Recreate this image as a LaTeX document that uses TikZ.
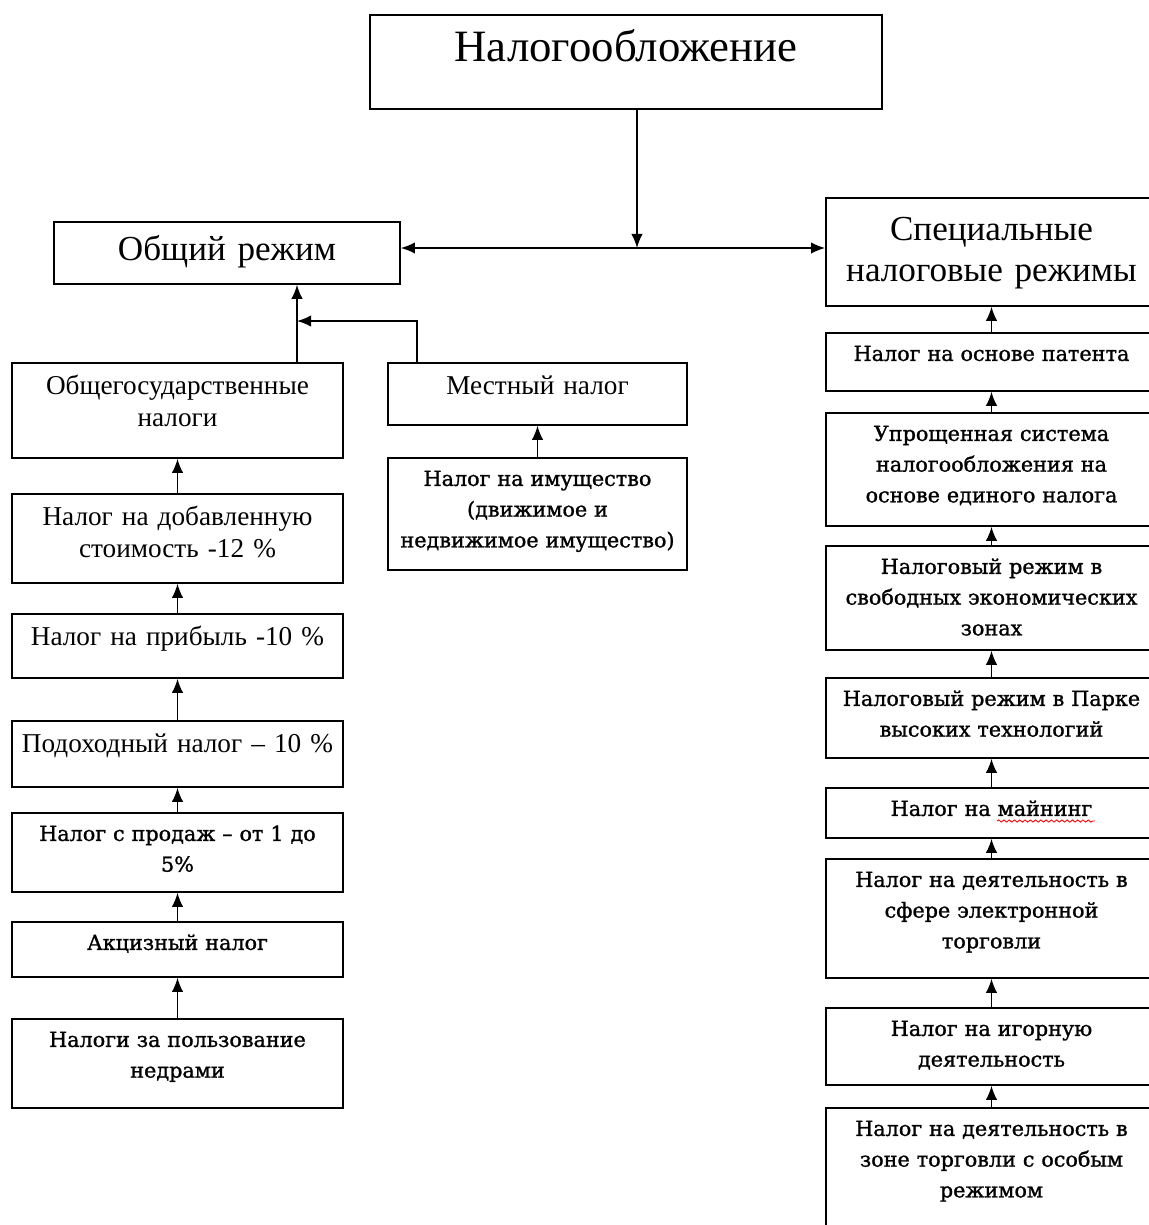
\documentclass[tikz,border=0pt]{standalone}
\usepackage{fontspec}
\setmainfont{Liberation Serif}
\newfontfamily\wideserif[FakeBold=1.2]{DejaVu Serif}
\usetikzlibrary{arrows.meta,decorations.pathmorphing}

\tikzset{
    box/.style={draw, line width=1pt, anchor=north, inner sep=0pt, align=center},
    tnr/.style={font=\fontsize{15.5}{18}\selectfont, text height=0.64cm},
    wide/.style={font=\wideserif\fontsize{11.8}{17.5}\selectfont, text height=0.56cm},
    link/.style={->, line width=0.9pt},
}

\begin{document}
\begin{tikzpicture}[x=0.02cm,y=-0.02cm,>={Latex[length=8pt,width=6.5pt]}]
    \useasboundingbox (0,0) rectangle (1149,1225);

    % head and the two regimes
    \node[box, text width=10.24cm, font=\fontsize{25.5}{30}\selectfont,
          text height=0.94cm, text depth=0.94cm] (tax) at (626,14) {Налогообложение};
    \node[box, text width=6.92cm, font=\fontsize{20}{23}\selectfont,
          text height=0.78cm, text depth=0.46cm] (general) at (227,221) {Общий режим};
    \node[box, text width=6.62cm, font=\fontsize{20}{23}\selectfont,
          text height=0.86cm, text depth=1.3cm] (special) at (991.5,197)
          {Специальные\\налоговые режимы};

    \coordinate (split) at (637,248);
    \draw[link] (tax.south -| split) -- (split);
    \draw[link] (split) -- (general.east |- split);
    \draw[link] (split) -- (special.west |- split);

    % general regime: state taxes
    \foreach \name/\ya/\yb/\txt in {
        gov/362/457/{Общегосударственные\\налоги},
        vat/493/582/{Налог на добавленную\\стоимость -12 \%},
        profit/613/677/{Налог на прибыль -10 \%},
        income/720/786/{Подоходный налог – 10 \%}}
        \node[box, tnr, text width=6.62cm, text depth={(\yb-\ya)*0.02cm-0.64cm}]
            (\name) at (177.5,\ya) {\txt};

    \foreach \name/\ya/\yb/\txt in {
        sales/812/891/{Налог с продаж – от 1 до\\5\%},
        excise/921/976/{Акцизный налог},
        subsoil/1018/1107/{Налоги за пользование\\недрами}}
        \node[box, wide, text width=6.62cm, text depth={(\yb-\ya)*0.02cm-0.56cm}]
            (\name) at (177.5,\ya) {\txt};

    % local tax
    \node[box, tnr, text width=5.98cm, text depth=0.6cm] (local) at (537.5,362)
        {Местный налог};
    \node[box, wide, text width=5.98cm, text depth=1.68cm] (prop) at (537.5,457)
        {Налог на имущество\\(движимое и\\недвижимое имущество)};

    % special regimes
    \foreach \name/\ya/\yb/\txt in {
        patent/332/390/{Налог на основе патента},
        simple/412/525/{Упрощенная система\\налогообложения на\\основе единого налога},
        fez/545/649/{Налоговый режим в\\свободных экономических\\зонах},
        htp/677/757/{Налоговый режим в Парке\\высоких технологий},
        mining/787/837/{Налог на майнинг},
        ecom/858/977/{Налог на деятельность в\\сфере электронной\\торговли},
        gambling/1007/1084/{Налог на игорную\\деятельность},
        zone/1107/1245/{Налог на деятельность в\\зоне торговли с особым\\режимом}}
        \node[box, wide, text width=6.62cm, text depth={(\yb-\ya)*0.02cm-0.56cm}]
            (\name) at (991.5,\ya) {\txt};

    % arrows up the columns
    \foreach \from/\to in {vat/gov, profit/vat, income/profit, sales/income,
                           excise/sales, subsoil/excise, prop/local,
                           patent/special, simple/patent, fez/simple, htp/fez,
                           mining/htp, ecom/mining, gambling/ecom, zone/gambling}
        \draw[link] (\from) -- (\to);

    \coordinate (join) at (297,321);
    \draw[link] (gov.north -| join) -- (general.south -| join);
    \draw[link] (local.north west) ++(30,0) |- (join);

    % spell check mark
    \draw[red, line width=0.5pt, decorate,
          decoration={snake, amplitude=0.6pt, segment length=3pt}]
        (997,821) -- (1095,821);
\end{tikzpicture}
\end{document}
